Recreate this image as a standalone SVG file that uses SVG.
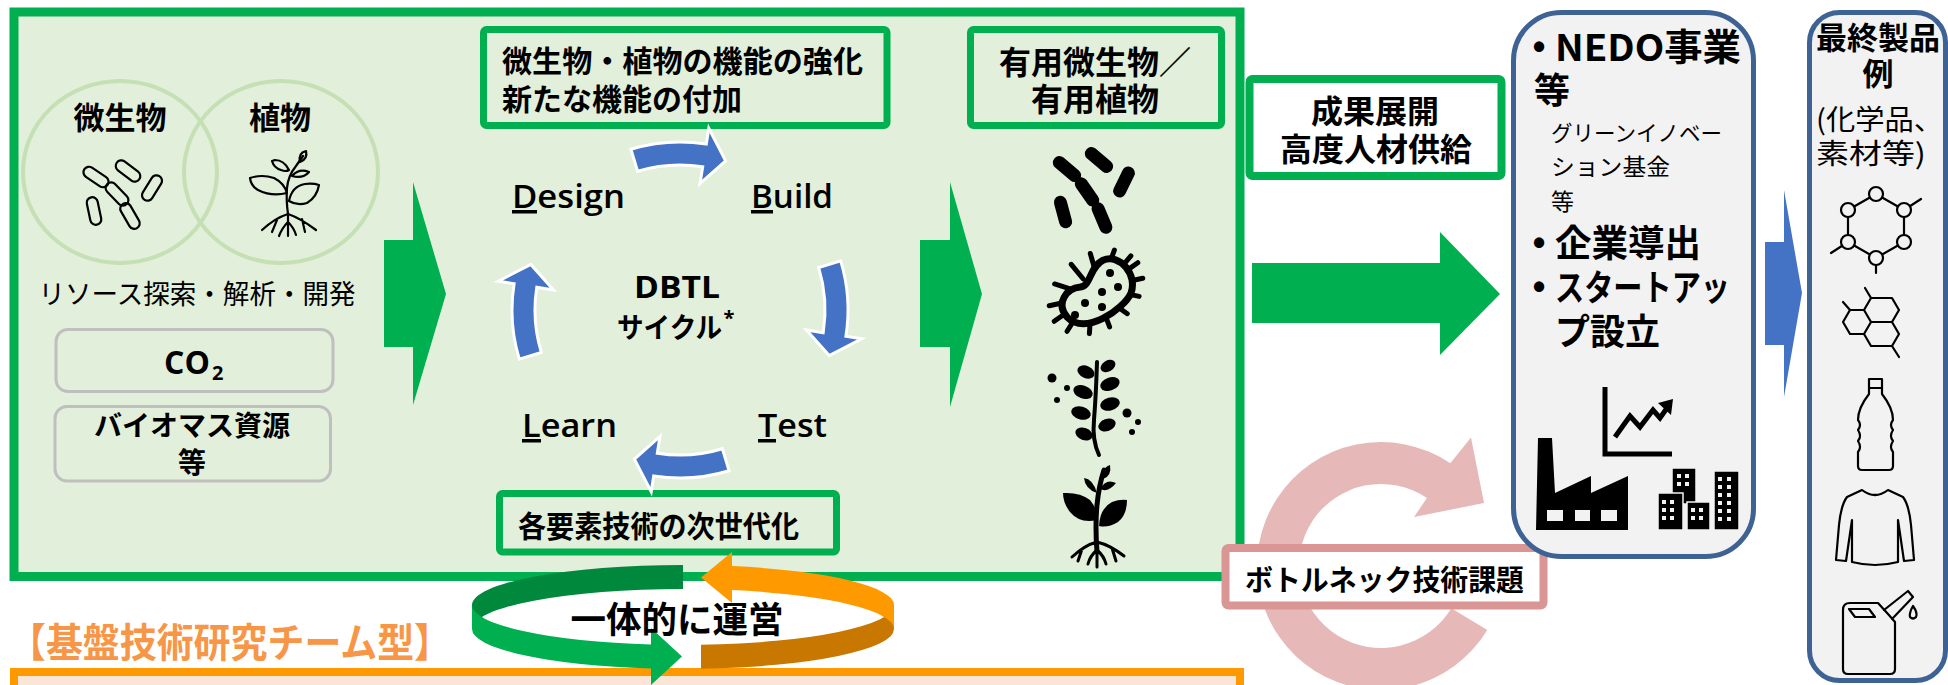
<svg xmlns="http://www.w3.org/2000/svg" width="1948" height="685" viewBox="0 0 1948 685">
<defs>
<style>
.jp{font-family:"Noto Sans CJK JP","Noto Sans",sans-serif}
.en{font-family:"Open Sans","Noto Sans",sans-serif;font-weight:600}
.b{font-weight:700}
.c{dominant-baseline:central}
.m{text-anchor:middle}
.panel{fill:#E2EFDA;stroke:#00B050;stroke-width:7}
.srcbox{fill:none;stroke:#BFBFBF;stroke-width:3}
.venn{fill:none;stroke:#C5E0B4;stroke-width:4}
.outline{fill:none;stroke:#000;stroke-width:2.2;stroke-linejoin:round;stroke-linecap:round}
.ink{fill:#000}
.grey{fill:#F2F2F2;stroke:#3E6293;stroke-width:5}
.green{fill:#00B050}
.cycle{fill:#4472C4;stroke:#fff;stroke-width:3}
</style>
<path id="dbtl-arrow" d="M630.9,149.3 A168,168 0 0 1 706.3,144.1 L708.8,128.3 L725.6,160.8 L700,183.6 L702.7,166.8 A145,145 0 0 0 637.6,171.3 Z"/>
<rect id="rod" x="-16.5" y="-6.5" width="33" height="13" rx="6.5"/>
<rect id="capsule" x="-14" y="-5.5" width="28" height="11" rx="5.5"/>
</defs>

<!-- integrated research team panel -->
<g id="team-panel">
<rect x="14" y="12" width="1226" height="564.5" fill="#E2EFDA" stroke="#00B050" stroke-width="9"/>
</g>

<!-- base technology team panel -->
<g id="base-panel">
<rect x="14" y="672" width="1226" height="40" fill="#FBE5D6" stroke="#FF9900" stroke-width="8"/>
<text x="9" y="640" class="jp b c" font-size="40" fill="#F79646" textLength="442" lengthAdjust="spacingAndGlyphs">【基盤技術研究チーム型】</text>
</g>

<!-- resources: microbes / plants -->
<g id="resources">
<ellipse cx="120" cy="172" rx="97" ry="91" class="venn"/>
<ellipse cx="281" cy="172" rx="97" ry="91" class="venn"/>
<text x="120" y="115" class="jp b c m" font-size="31">微生物</text>
<text x="280" y="115" class="jp b c m" font-size="31">植物</text>
<g class="outline">
<use href="#capsule" transform="translate(96,177) rotate(34)"/>
<use href="#capsule" transform="translate(128,171) rotate(37)"/>
<use href="#capsule" transform="translate(117,194) rotate(46)"/>
<use href="#capsule" transform="translate(152,188) rotate(-58)"/>
<use href="#capsule" transform="translate(94,211) rotate(78)"/>
<use href="#capsule" transform="translate(130,216) rotate(60)"/>
</g>
<g class="outline">
<path d="M288,236 V214 Q286,200 287,188 Q288,176 296,166 L303,156"/>
<path d="M287,193 Q272,197 258,190 Q251,186 250,178 Q262,174 274,178 Q284,183 287,193 Z"/>
<path d="M289,201 Q292,186 305,184 Q313,183 319,185 Q317,197 307,203 Q297,206 289,201 Z"/>
<path d="M289,170 Q284,160 275,160 L272,161 Q274,168 281,170 Q286,172 289,170 Z"/>
<path d="M292,176 Q299,168 309,172 Q303,179 292,176 Z"/>
<path d="M300,162 Q298,153 306,151 Q308,159 300,162 Z"/>
<path d="M288,214 Q275,218 262,230 M277,220 L272,232 M288,214 Q300,218 316,230 M302,219 L305,232 M288,222 Q282,228 279,236 M288,222 Q294,228 296,235"/>
</g>
<text x="197" y="292" class="jp c m" font-size="27" textLength="317" lengthAdjust="spacingAndGlyphs">リソース探索・解析・開発</text>
</g>

<g id="co2">
<rect x="56" y="329.5" width="277" height="62" rx="12" class="srcbox"/>
<text x="164" y="374" class="en b" font-size="32">CO</text>
<text x="212" y="380" class="en b" font-size="20">2</text>
</g>

<g id="biomass">
<rect x="55" y="406.5" width="275.5" height="74.5" rx="12" class="srcbox"/>
<text x="192" y="424" class="jp b c m" font-size="28" textLength="196" lengthAdjust="spacingAndGlyphs">バイオマス資源</text>
<text x="192" y="461" class="jp b c m" font-size="28">等</text>
</g>

<!-- block arrows -->
<g id="connectors">
<path d="M384,240 H413 V182 L446,294 L413,405 V347 H384 Z" class="green"/>
<path d="M920,240 H950 V182 L982,294 L950,407 V347 H920 Z" class="green"/>
<path d="M1252,263 H1440 V232 L1500,294 L1440,355 V323 H1252 Z" class="green"/>
<path d="M1765,242 H1784 V190 L1802,293 L1784,397 V345 H1765 Z" fill="#4472C4"/>
</g>

<g id="enhance">
<rect x="483.5" y="29.5" width="403.5" height="96" rx="3" class="panel"/>
<text x="502" y="59" class="jp b c" font-size="30" textLength="361" lengthAdjust="spacingAndGlyphs">微生物・植物の機能の強化</text>
<text x="502" y="97" class="jp b c" font-size="30" textLength="240" lengthAdjust="spacingAndGlyphs">新たな機能の付加</text>
</g>

<g id="useful">
<rect x="970.5" y="29.5" width="251" height="96" rx="3" class="panel"/>
<text x="1095" y="60" class="jp b c m" font-size="32">有用微生物／</text>
<text x="1095" y="97" class="jp b c m" font-size="32">有用植物</text>
</g>

<g id="next-gen">
<rect x="499.5" y="493.5" width="337" height="58.5" rx="3" class="panel"/>
<text x="518" y="524" class="jp b c" font-size="30" textLength="281" lengthAdjust="spacingAndGlyphs">各要素技術の次世代化</text>
</g>

<!-- DBTL cycle -->
<g id="dbtl">
<use href="#dbtl-arrow" class="cycle"/>
<use href="#dbtl-arrow" class="cycle" transform="rotate(90 680 310)"/>
<use href="#dbtl-arrow" class="cycle" transform="rotate(180 680 310)"/>
<use href="#dbtl-arrow" class="cycle" transform="rotate(270 680 310)"/>
<text x="512" y="208" class="en" font-size="32" textLength="113" lengthAdjust="spacingAndGlyphs">Design</text>
<rect x="512" y="210" width="25" height="3.5"/>
<text x="751" y="208" class="en" font-size="32" textLength="82" lengthAdjust="spacingAndGlyphs">Build</text>
<rect x="751" y="210" width="22" height="3.5"/>
<text x="758" y="437" class="en" font-size="32" textLength="69" lengthAdjust="spacingAndGlyphs">Test</text>
<rect x="758" y="439" width="18" height="3.5"/>
<text x="522" y="437" class="en" font-size="32" textLength="95" lengthAdjust="spacingAndGlyphs">Learn</text>
<rect x="522" y="439" width="19" height="3.5"/>
<text x="677" y="298" class="en b m" font-size="31" textLength="86" lengthAdjust="spacingAndGlyphs">DBTL</text>
<text x="617" y="326" class="jp b c" font-size="28" textLength="105" lengthAdjust="spacingAndGlyphs">サイクル</text>
<text x="729" y="325" class="en b m" font-size="20">*</text>
</g>

<!-- useful organism icons -->
<g id="useful-icons">
<g class="ink">
<use href="#rod" transform="translate(1067,169) rotate(40)"/>
<use href="#rod" transform="translate(1099,160) rotate(40)"/>
<use href="#rod" transform="translate(1087,192) rotate(55)"/>
<use href="#rod" transform="translate(1124,182) rotate(-64)"/>
<use href="#rod" transform="translate(1063,212) rotate(75)"/>
<use href="#rod" transform="translate(1102,218) rotate(67)"/>
</g>
<g transform="translate(1096,292) rotate(-35)" stroke="#000" stroke-linecap="round">
<g stroke-width="5">
<path d="M36,0 L51,0 M33,10 L46.2,15.6 M24,19 L32.8,28.3 M9,24 L13.2,35.7 M-6,25 L-8.9,36.4 M-21,20 L-29.3,30.3 M-33,10 L-46.2,15.6 M-37,0 L-51,0 M-33,-10 L-46.2,-15.6 M-20,-18 L-29.3,-30.3 M-3,-18 L-4.4,-36.9 M13,-22 L17.4,-34.8 M28,-16 L39.1,-23.8 M36,-6 L49.3,-9.6"/>
</g>
<path d="M-38,4 C-40,-14 -22,-20 -10,-13 C0,-8 8,-24 24,-22 C42,-18 44,10 28,21 C12,30 -34,30 -38,4 Z" fill="#E2EFDA" stroke-width="7"/>
</g>
<g class="ink">
<circle cx="1110" cy="273" r="4"/><circle cx="1118" cy="287" r="4"/><circle cx="1102" cy="292" r="4"/>
<circle cx="1085" cy="303" r="4"/><circle cx="1102" cy="307" r="4"/><circle cx="1075" cy="315" r="4"/>
</g>
<path d="M1099,455 Q1092,440 1094,420 Q1096,395 1097,362" fill="none" stroke="#000" stroke-width="4" stroke-linecap="round"/>
<g class="ink">
<ellipse cx="1086" cy="372" rx="9" ry="6" transform="rotate(25 1086 372)"/>
<ellipse cx="1083" cy="392" rx="10" ry="6.5" transform="rotate(20 1083 392)"/>
<ellipse cx="1081" cy="413" rx="10" ry="6.5" transform="rotate(15 1081 413)"/>
<ellipse cx="1084" cy="434" rx="9" ry="6" transform="rotate(20 1084 434)"/>
<ellipse cx="1108" cy="366" rx="8" ry="5.5" transform="rotate(-30 1108 366)"/>
<ellipse cx="1110" cy="384" rx="10" ry="6.5" transform="rotate(-20 1110 384)"/>
<ellipse cx="1110" cy="404" rx="10" ry="6.5" transform="rotate(-15 1110 404)"/>
<ellipse cx="1107" cy="425" rx="9" ry="6" transform="rotate(-20 1107 425)"/>
<circle cx="1052" cy="378" r="4.5"/><circle cx="1067" cy="388" r="3"/><circle cx="1057" cy="400" r="3"/>
<circle cx="1127" cy="413" r="4.5"/><circle cx="1138" cy="422" r="3"/><circle cx="1132" cy="432" r="3"/>
</g>
<path d="M1097,552 Q1095,525 1097,505 Q1099,485 1104,470" fill="none" stroke="#000" stroke-width="5" stroke-linecap="round"/>
<g class="ink">
<path d="M1097,520 Q1080,524 1070,512 Q1063,503 1063,493 Q1080,492 1090,500 Q1097,508 1097,520 Z"/>
<path d="M1099,526 Q1100,508 1112,502 Q1120,499 1127,500 Q1127,515 1118,522 Q1108,528 1099,526 Z"/>
<path d="M1097,493 Q1093,479 1084,478 Q1085,489 1097,493 Z"/>
<path d="M1100,489 Q1106,478 1116,483 Q1108,493 1100,489 Z"/>
<path d="M1103,479 Q1100,469 1110,465 Q1112,476 1103,479 Z"/>
</g>
<path d="M1097,542 Q1085,545 1072,557 M1082,549 L1078,561 M1097,542 Q1110,545 1124,556 M1112,548 L1116,561 M1097,545 L1097,567 M1097,550 Q1090,556 1088,564 M1097,550 Q1104,556 1106,564" fill="none" stroke="#000" stroke-width="3" stroke-linecap="round"/>
</g>

<g id="outcome">
<rect x="1249.5" y="79" width="252" height="97" rx="3" fill="#fff" stroke="#00B050" stroke-width="8"/>
<text x="1375" y="109" class="jp b c m" font-size="32">成果展開</text>
<text x="1376" y="147" class="jp b c m" font-size="32">高度人材供給</text>
</g>

<!-- bottleneck loop -->
<g id="bottleneck">
<path d="M1487.3,629.9 A124,124 0 1 1 1450.3,463.2 L1471,437.4 L1484,503 L1414,517 L1426.9,498 A82,82 0 1 0 1451.3,608.2 Z" fill="#E6B9B8"/>
<rect x="1225.5" y="548" width="318" height="57.5" rx="3" fill="#fff" stroke="#D99694" stroke-width="8"/>
<text x="1245" y="578" class="jp b c" font-size="29" textLength="279" lengthAdjust="spacingAndGlyphs">ボトルネック技術課題</text>
</g>

<!-- deployment -->
<g id="deployment">
<rect x="1513.5" y="12.5" width="240" height="544" rx="48" class="grey"/>
<text x="1539" y="46" class="m c b" font-family="Liberation Sans" font-size="36">•</text>
<text x="1555" y="45" class="jp b c" font-size="37" textLength="186" lengthAdjust="spacingAndGlyphs">NEDO事業</text>
<text x="1534" y="88" class="jp b c" font-size="36">等</text>
<text x="1551" y="131" class="jp c" font-size="22" textLength="171" lengthAdjust="spacingAndGlyphs">グリーンイノベー</text>
<text x="1551" y="165" class="jp c" font-size="23" textLength="119" lengthAdjust="spacingAndGlyphs">ション基金</text>
<text x="1551" y="200" class="jp c" font-size="23">等</text>
<text x="1539" y="242" class="m c b" font-family="Liberation Sans" font-size="36">•</text>
<text x="1555" y="241" class="jp b c" font-size="37" textLength="146" lengthAdjust="spacingAndGlyphs">企業導出</text>
<text x="1539" y="286" class="m c b" font-family="Liberation Sans" font-size="36">•</text>
<text x="1555" y="285" class="jp b c" font-size="36" textLength="175" lengthAdjust="spacingAndGlyphs">スタートアッ</text>
<text x="1555" y="329" class="jp b c" font-size="36" textLength="105" lengthAdjust="spacingAndGlyphs">プ設立</text>
<path d="M1605,387 V454 H1672" fill="none" stroke="#000" stroke-width="5"/>
<polyline points="1615,437 1630,416 1640,427 1653,410 1660,418 1667,408" fill="none" stroke="#000" stroke-width="5"/>
<polygon points="1658,403 1673,399 1671,415" class="ink"/>
<path d="M1536,530 L1538,438 L1552,438 L1555,493 L1591,476 L1591,493 L1628,476 L1628,530 Z" class="ink"/>
<g fill="#F2F2F2">
<rect x="1547" y="510" width="16" height="11"/><rect x="1575" y="510" width="15" height="11"/><rect x="1601" y="510" width="16" height="11"/>
</g>
<g class="ink" stroke="#F2F2F2" stroke-width="1.5">
<rect x="1672" y="468" width="24" height="36"/>
<rect x="1658" y="493" width="25" height="37"/>
<rect x="1687" y="502" width="23" height="28"/>
<rect x="1714" y="471" width="25" height="59"/>
</g>
<g fill="#F2F2F2">
<rect x="1677" y="474" width="4" height="4"/><rect x="1685" y="474" width="4" height="4"/><rect x="1677" y="482" width="4" height="4"/><rect x="1685" y="482" width="4" height="4"/>
<rect x="1662" y="500" width="4" height="4"/><rect x="1670" y="500" width="4" height="4"/><rect x="1662" y="508" width="4" height="4"/><rect x="1670" y="508" width="4" height="4"/><rect x="1662" y="516" width="4" height="4"/><rect x="1670" y="516" width="4" height="4"/>
<rect x="1691" y="508" width="4" height="4"/><rect x="1699" y="508" width="4" height="4"/><rect x="1691" y="516" width="4" height="4"/><rect x="1699" y="516" width="4" height="4"/>
<rect x="1718" y="477" width="4" height="4"/><rect x="1727" y="477" width="4" height="4"/><rect x="1718" y="485" width="4" height="4"/><rect x="1727" y="485" width="4" height="4"/>
<rect x="1718" y="493" width="4" height="4"/><rect x="1727" y="493" width="4" height="4"/><rect x="1718" y="501" width="4" height="4"/><rect x="1727" y="501" width="4" height="4"/>
<rect x="1718" y="509" width="4" height="4"/><rect x="1727" y="509" width="4" height="4"/><rect x="1718" y="517" width="4" height="4"/><rect x="1727" y="517" width="4" height="4"/>
</g>
</g>

<!-- final products -->
<g id="products">
<rect x="1809.5" y="12.5" width="136" height="668" rx="30" class="grey"/>
<text x="1878" y="35" class="jp b c m" font-size="31">最終製品</text>
<text x="1878" y="71" class="jp b c m" font-size="31">例</text>
<text x="1816" y="118" class="jp c" font-size="28" textLength="127" lengthAdjust="spacingAndGlyphs">(化学品、</text>
<text x="1816" y="152" class="jp c" font-size="28" textLength="110" lengthAdjust="spacingAndGlyphs">素材等)</text>
<g class="outline" fill="#F2F2F2">
<path d="M1876,194 L1904,210 L1904,242 L1876,258 L1848,242 L1848,210 Z M1904,210 L1921,199 M1848,242 L1831,253 M1876,258 L1876,273"/>
<circle cx="1876" cy="194" r="7" fill="#F2F2F2"/><circle cx="1904" cy="210" r="7" fill="#F2F2F2"/><circle cx="1904" cy="242" r="7" fill="#F2F2F2"/>
<circle cx="1876" cy="258" r="7" fill="#F2F2F2"/><circle cx="1848" cy="242" r="7" fill="#F2F2F2"/><circle cx="1848" cy="210" r="7" fill="#F2F2F2"/>
<path d="M1871,298 L1892,298 L1899,310 L1892,322 L1899,334 L1892,346 L1871,346 L1864,334 L1871,322 L1864,310 Z M1864,310 L1850,310 L1843,322 L1850,334 L1864,334 M1871,322 L1892,322 M1871,298 L1865,288 M1850,310 L1843,302 M1892,346 L1899,357"/>
<path d="M1869,379 H1882 V388 H1869 Z M1869,388 L1869,394 Q1858,408 1858,420 Q1862,425 1858,430 Q1862,436 1858,441 Q1862,447 1858,452 L1858,466 Q1858,470 1862,470 L1889,470 Q1893,470 1893,466 L1893,452 Q1889,447 1893,441 Q1889,436 1893,430 Q1889,425 1893,420 Q1893,408 1882,394 L1882,388"/>
<path d="M1862,490 Q1875,500 1888,490 L1903,497 Q1909,505 1911,525 L1914,560 L1904,561 L1898,520 L1898,562 Q1875,568 1852,562 L1852,520 L1846,561 L1836,560 L1839,525 Q1841,505 1847,497 Z"/>
<path d="M1843,610 Q1843,603 1850,603 L1878,603 L1888,614 L1895,622 L1895,669 Q1895,674 1890,674 L1848,674 Q1843,674 1843,669 Z M1849,609 L1869,609 L1875,617 L1855,617 Z M1884,610 L1908,591 L1913,597 L1892,619 M1913,606 Q1918,613 1916,617 Q1913,620 1910,617 Q1909,613 1913,606 Z"/>
</g>
</g>

<!-- joint operation loop -->
<g id="joint-loop">
<path d="M683,565 A211,40 0 0 0 472,605 L472,629 A211,40 0 0 1 683,589 Z" fill="#00883C"/>
<path d="M472,605 A211,40 0 0 0 651,644.5 L651,668.5 A211,40 0 0 1 472,629 Z" fill="#00B050"/>
<path d="M651,628 L682,656.5 L651,685 Z" fill="#00B050"/>
<path d="M701,644.8 A211,40 0 0 0 894,605 L894,629 A211,40 0 0 1 701,668.8 Z" fill="#C87800"/>
<path d="M732,566.1 A211,40 0 0 1 894,605 L894,629 A211,40 0 0 0 732,590.1 Z" fill="#FF9900"/>
<path d="M732,552 L701,577.5 L732,603 Z" fill="#FF9900"/>
<text x="677" y="617" class="jp b c m" font-size="36" textLength="213" lengthAdjust="spacingAndGlyphs">一体的に運営</text>
</g>
</svg>
